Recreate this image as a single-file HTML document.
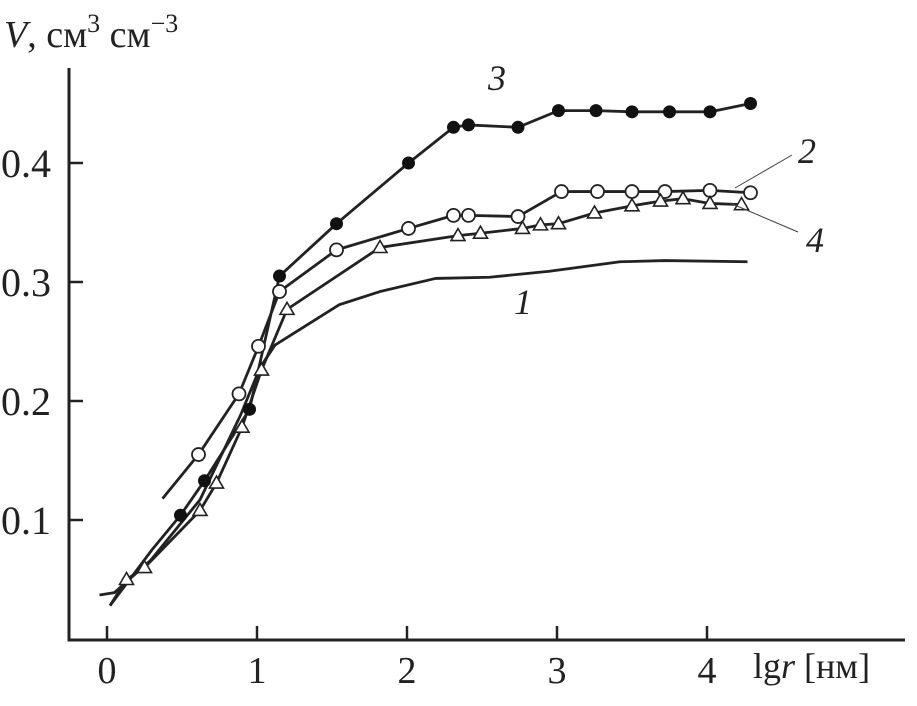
<!DOCTYPE html>
<html><head><meta charset="utf-8"><style>
html,body{margin:0;padding:0;background:#fff;}
svg text{font-family:"Liberation Serif",serif;fill:#222;}
</style></head><body>
<svg id="chart" width="917" height="701" viewBox="0 0 917 701" xmlns="http://www.w3.org/2000/svg">
<g id="axes"></g>
<g id="series"></g>
<text x="4" y="47" font-size="38"><tspan font-style="italic">V</tspan>, см<tspan font-size="26" dy="-15">3</tspan><tspan dy="15"> см</tspan><tspan font-size="26" dy="-15">−3</tspan></text>
<text x="753" y="678" font-size="36">lg<tspan font-style="italic">r</tspan> [нм]</text>
<text x="488" y="90" font-size="36" font-style="italic">3</text>
<text x="514" y="314" font-size="36" font-style="italic">1</text>
<text x="798" y="163" font-size="36" font-style="italic">2</text>
<text x="806" y="252" font-size="36" font-style="italic">4</text>
<line x1="735" y1="188" x2="792" y2="155" stroke="#444" stroke-width="1"/>
<line x1="730" y1="203" x2="798" y2="232" stroke="#444" stroke-width="1"/>
</svg>
<script>
const xTicks=[0,1,2,3,4];
const yTicks=[0.1,0.2,0.3,0.4];
const yTickLabels=["0.1","0.2","0.3","0.4"];
const s1x=[-0.05,0.05,0.29,0.62,0.89,1.02,1.12,1.55,1.82,2.19,2.55,2.95,3.42,3.72,4.27];
const s1y=[0.037,0.039,0.066,0.117,0.188,0.228,0.247,0.281,0.292,0.303,0.304,0.309,0.317,0.318,0.317];
const s2x=[0.37,0.61,0.88,1.01,1.15,1.53,2.01,2.31,2.41,2.74,3.03,3.27,3.5,3.72,4.02,4.29];
const s2y=[0.118,0.155,0.206,0.246,0.292,0.327,0.345,0.356,0.356,0.355,0.376,0.376,0.376,0.376,0.377,0.375];
const s3x=[0.02,0.3,0.49,0.65,0.95,1.15,1.53,2.01,2.31,2.41,2.74,3.01,3.26,3.5,3.75,4.02,4.29];
const s3y=[0.028,0.075,0.104,0.133,0.193,0.305,0.349,0.400,0.430,0.432,0.430,0.444,0.444,0.443,0.443,0.443,0.450];
const s4x=[0.02,0.13,0.25,0.62,0.73,0.9,1.03,1.2,1.82,2.34,2.49,2.77,2.89,3.01,3.25,3.5,3.69,3.84,4.02,4.23];
const s4y=[0.028,0.05,0.06,0.108,0.131,0.178,0.226,0.277,0.329,0.339,0.341,0.345,0.348,0.349,0.358,0.364,0.368,0.37,0.366,0.365];
const X=v=>107+150*v, Y=v=>639-1190*v;
const NS="http://www.w3.org/2000/svg";
function mk(t,a,p){const e=document.createElementNS(NS,t);for(const k in a)e.setAttribute(k,a[k]);p.appendChild(e);return e;}
const ax=document.getElementById('axes');
let e=mk('path',{d:`M69 68 V640 H905`,fill:'none',stroke:'#222','stroke-width':3},ax);


xTicks.forEach(t=>{
 let l=mk('line',{x1:X(t),x2:X(t),y1:640,y2:626,stroke:'#222','stroke-width':2.5},ax);
 
 
 let tx=mk('text',{x:X(t),y:683,'font-size':38,'text-anchor':'middle'},ax);tx.textContent=String(t);
 
 
});
yTicks.forEach((t,i)=>{
 let l=mk('line',{x1:69,x2:83,y1:Y(t),y2:Y(t),stroke:'#222','stroke-width':2.5},ax);
 
 
 let tx=mk('text',{x:1,y:Y(t)+14,'font-size':40},ax);tx.textContent=yTickLabels[i];
 
 
});
const sg=document.getElementById('series');
function line(xs,ys,name){
 let p=mk('polyline',{points:xs.map((v,i)=>X(v)+','+Y(ys[i])).join(' '),fill:'none',stroke:'#222','stroke-width':2.8,'stroke-linejoin':'round'},sg);
 
 
}
line(s1x,s1y,'series-1-line');
line(s3x,s3y,'series-3-line');
line(s2x,s2y,'series-2-line');
line(s4x,s4y,'series-4-line');
s3x.forEach((v,i)=>{if(i<2)return;
 let c=mk('circle',{cx:X(v),cy:Y(s3y[i]),r:6.5,fill:'#111'},sg);
 
 
});
s2x.forEach((v,i)=>{if(i<1)return;
 let c=mk('circle',{cx:X(v),cy:Y(s2y[i]),r:6.5,fill:'#fff',stroke:'#222','stroke-width':1.8},sg);
 
 
});
s4x.forEach((v,i)=>{if(i<1)return;
 const cx=X(v),cy=Y(s4y[i]);
 let t=mk('polygon',{points:`${cx},${cy-7} ${cx-7},${cy+5} ${cx+7},${cy+5}`,fill:'#fff',stroke:'#222','stroke-width':1.6},sg);
 
 
});
</script>
</body></html>
